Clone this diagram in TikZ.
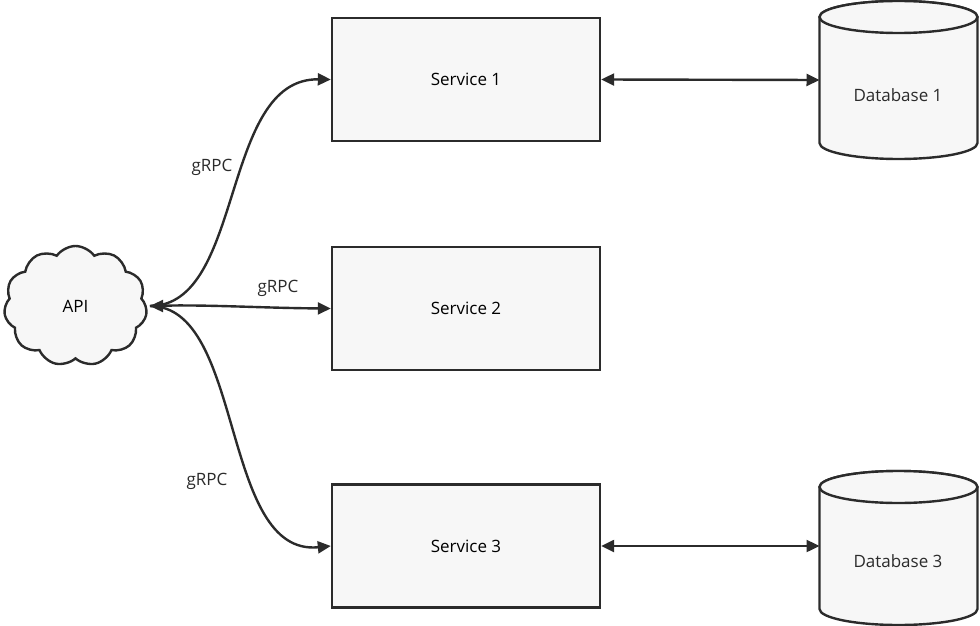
\documentclass[tikz,border=0pt]{standalone}
\usepackage{fontspec}
\setmainfont{Open Sans}
\usetikzlibrary{shapes.symbols,shapes.geometric,arrows.meta}
\definecolor{ln}{HTML}{2B2B2B}
\definecolor{fl}{HTML}{F7F7F7}
\begin{document}
\begin{tikzpicture}[x=1pt,y=-1pt,
  box/.style={draw=ln,line width=2.4pt,fill=fl,minimum width=268pt,minimum height=123pt,inner sep=0pt,font=\fontsize{17}{19}\selectfont},
  dbs/.style={draw=ln,line width=2.4pt,fill=fl},
  tip/.style={Triangle[length=13pt,width=12pt]},
  con/.style={draw=ln,line width=2.4pt,-{Triangle[length=13pt,width=12pt]}},
  lab/.style={font=\fontsize{17}{19}\selectfont,text=ln}]
\useasboundingbox (0,0) rectangle (980,626);
\node[box] (s1) at (466,79.5) {Service 1};
\node[box] (s2) at (466,308.5) {Service 2};
\node[box] (s3) at (466,546) {Service 3};
% Database 1
\path[dbs] (819.5,17) -- (819.5,143) arc[start angle=180,end angle=360,x radius=79,y radius=-16] -- (977.5,17) arc[start angle=0,end angle=180,x radius=79,y radius=-16] -- cycle;
\draw[dbs] (898.5,17) ellipse[x radius=79,y radius=16];
\node[lab] (d1) at (898,95) {Database 1};
\coordinate (d1w) at (819.5,80);
% Database 3
\path[dbs] (819.5,487) -- (819.5,609) arc[start angle=180,end angle=360,x radius=79,y radius=-16] -- (977.5,487) arc[start angle=0,end angle=180,x radius=79,y radius=-16] -- cycle;
\draw[dbs] (898.5,487) ellipse[x radius=79,y radius=16];
\node[lab] (d3) at (898,561) {Database 3};
\coordinate (d3w) at (819.5,546);
\node[cloud,cloud puffs=11,cloud puff arc=110,aspect=1.2,draw=ln,line width=2.4pt,fill=fl,minimum width=143pt,minimum height=120pt,inner sep=0pt,font=\fontsize{17}{19}\selectfont] (api) at (75.5,306) {API};
\coordinate (h) at (150,306);
\draw[con] (h) .. controls (245,306) and (220,78) .. (s1.west);
\draw[con] (h) .. controls (200,304) and (260,308) .. (s2.west);
\draw[con] (h) .. controls (245,306) and (220,557) .. (s3.west);
\draw[con] (172,306) -- (h);
\draw[draw=ln,line width=2.4pt,{Triangle[length=13pt,width=12pt]}-{Triangle[length=13pt,width=12pt]}] (s1.east) -- (d1w);
\draw[draw=ln,line width=2.4pt,{Triangle[length=13pt,width=12pt]}-{Triangle[length=13pt,width=12pt]}] (s3.east) -- (d3w);
\node[lab] at (212,167) {gRPC};
\node[lab] at (278,288) {gRPC};
\node[lab] at (207,481) {gRPC};
\end{tikzpicture}
\end{document}
